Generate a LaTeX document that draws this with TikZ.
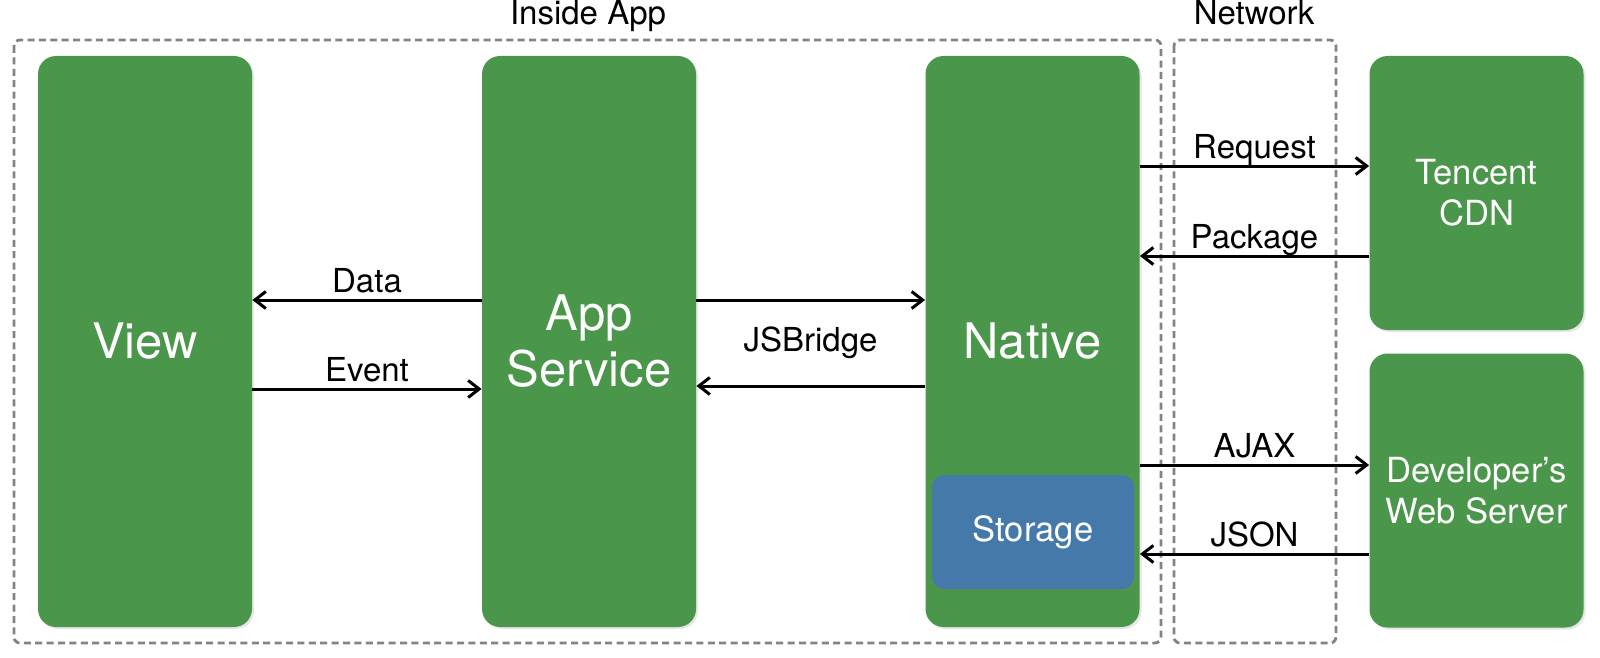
\documentclass[tikz,border=0pt]{standalone}
\usepackage{fontspec}
\setmainfont{TeX Gyre Heros}
\usetikzlibrary{arrows.meta,shadows}
\definecolor{appgreen}{HTML}{4A964A}
\definecolor{storeblue}{HTML}{4479AA}
\definecolor{dashgray}{HTML}{838387}
\tikzset{>={Straight Barb[length=5.5pt,width=8.5pt]}}

\begin{document}
\begin{tikzpicture}[x=0.5pt,y=-0.5pt,
  box/.style={rounded corners=9pt, fill=appgreen, text=white, align=center, minimum width=107pt,
    drop shadow={opacity=0.2, shadow xshift=1pt, shadow yshift=-1pt}},
  tall/.style={box, minimum height=285.5pt, font=\fontsize{24.5}{28}\selectfont},
  short/.style={box, minimum height=137pt, font=\fontsize{17.3}{20.5}\selectfont},
  group/.style={draw=dashgray, line width=1.4pt, dash pattern=on 3.5pt off 2.2pt, rounded corners=3pt},
  lbl/.style={font=\fontsize{16.5}{19}\selectfont, text height=1.5ex, text depth=.25ex},
  link/.style={->, line width=1.5pt}]
\useasboundingbox (0,0) rectangle (1600,658);
\draw[group] (14,40) rectangle (1161,643);
\draw[group] (1174,40) rectangle (1336,643);
\node[lbl] (insidelbl) at (588,18) {Inside App};
\node[lbl] (netlbl) at (1254,18) {Network};
\node[tall] (view) at (145,341.5) {View};
\node[tall] (app) at (589,341.5) {App\\Service};
\node[tall] (native) at (1032.5,341.5) {Native};
\node[box, fill=storeblue, minimum width=101pt, minimum height=57pt, rounded corners=6pt,
  font=\fontsize{17.3}{20}\selectfont] (storage) at (1033,532) {Storage};
\node[short] (cdn) at (1476.5,193) {Tencent\\CDN};
\node[short] (web) at (1476.5,490.5) {Developer’s\\Web Server};
\draw[link] (app.west |- 0,300) -- node[lbl, above, inner sep=1.5pt] (datalbl) {Data} (view.east |- 0,300);
\draw[link] (view.east |- 0,389) -- node[lbl, above, inner sep=1.5pt] (eventlbl) {Event} (app.west |- 0,389);
\draw[link] (app.east |- 0,300) -- (native.west |- 0,300);
\draw[link] (native.west |- 0,386) -- (app.east |- 0,386);
\node[lbl] (bridgelbl) at (810.5,345) {JSBridge};
\draw[link] (native.east |- 0,166) -- node[lbl, above, inner sep=1.5pt] (reqlbl) {Request} (cdn.west |- 0,166);
\draw[link] (cdn.west |- 0,256) -- node[lbl, above, inner sep=1.5pt] (pkglbl) {Package} (native.east |- 0,256);
\draw[link] (native.east |- 0,465) -- node[lbl, above, inner sep=1.5pt] (ajaxlbl) {AJAX} (web.west |- 0,465);
\draw[link] (web.west |- 0,554) -- node[lbl, above, inner sep=1.5pt] (jsonlbl) {JSON} (native.east |- 0,554);
\end{tikzpicture}
\end{document}
